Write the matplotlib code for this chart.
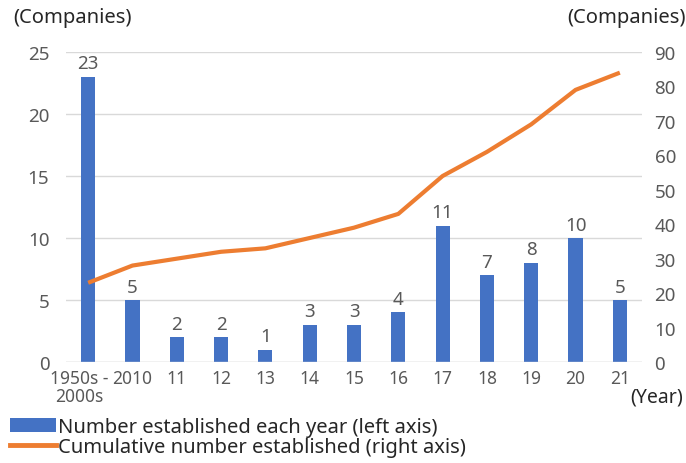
import matplotlib
matplotlib.use("Agg")
import matplotlib.pyplot as plt
from matplotlib.patches import Patch
from matplotlib.lines import Line2D
from matplotlib.transforms import ScaledTranslation

categories = ["1950s -\n2000s", "2010", "11", "12", "13", "14", "15", "16", "17", "18", "19", "20", "21"]
annual = [23, 5, 2, 2, 1, 3, 3, 4, 11, 7, 8, 10, 5]
cumulative = [23, 28, 30, 32, 33, 36, 39, 43, 54, 61, 69, 79, 84]
left_ticks = [0, 5, 10, 15, 20, 25]
right_ticks = [0, 10, 20, 30, 40, 50, 60, 70, 80, 90]

plt.rcParams['font.family'] = ['Noto Sans', 'DejaVu Sans']
gray = "#595959"
blue = "#4472C4"
orange = "#ED7D31"
fs = 13.5

fig = plt.figure(figsize=(6.86, 4.64), dpi=100)
ax = fig.add_axes([66/686, 1 - 363/464, (642-66)/686, (363-53)/464])
x = list(range(len(categories)))
ax.bar(x, annual, width=0.32, color=blue, zorder=3)
for xi, v in zip(x, annual):
    ax.text(xi, v + 0.35, str(v), ha="center", va="bottom", fontsize=fs, color=gray, zorder=5)
ax.set_ylim(0, 25)
ax.set_xlim(-0.5, len(categories) - 0.5)
ax.set_yticks(left_ticks)
ax.grid(axis="y", color="#D9D9D9", linewidth=1, zorder=0)
for s in ax.spines.values():
    s.set_visible(False)
ax.axhline(0, color="#D9D9D9", linewidth=1, zorder=4)
ax.set_xticks(x)
ax.set_xticklabels(categories, fontsize=12.5, color=gray, linespacing=1.0)
ax.tick_params(axis="both", length=0, labelcolor=gray)
ax.tick_params(axis="y", pad=12, labelsize=fs)
ax.tick_params(axis="x", pad=5, labelsize=12.5)

ax2 = ax.twinx()
ax2.plot(x, cumulative, color=orange, linewidth=3, zorder=6, solid_capstyle="butt")
ax2.set_ylim(0, 90)
ax2.set_yticks(right_ticks)
for s in ax2.spines.values():
    s.set_visible(False)
ax2.tick_params(axis="y", length=0, labelsize=fs, labelcolor=gray, pad=9)

fig.text(13/686, 1 - 18/464, "(Companies)", fontsize=14.5, color="#262626", va="center", ha="left")
fig.text(686/686, 1 - 18/464, "(Companies)", fontsize=14.5, color="#262626", va="center", ha="right")
fig.text(683/686, 1 - 397/464, "(Year)", fontsize=14, color="#262626", va="center", ha="right")

handles = [Patch(facecolor=blue, edgecolor="none"), Line2D([0], [0], color=orange, linewidth=3.5)]
labels = ["Number established each year (left axis)", "Cumulative number established (right axis)"]
fig.legend(handles, labels, loc="upper left", bbox_to_anchor=(10/686, 1 - 418/464), frameon=False,
           fontsize=14.5, handlelength=2.3, handletextpad=0.1, labelspacing=0.0, borderpad=0,
           borderaxespad=0, labelcolor="#262626")

fig.canvas.draw()
first = ax.xaxis.get_major_ticks()[0].label1
first.set_transform(first.get_transform() + ScaledTranslation(-9/100, 0, fig.dpi_scale_trans))

fig.savefig("out.png", dpi=100)
